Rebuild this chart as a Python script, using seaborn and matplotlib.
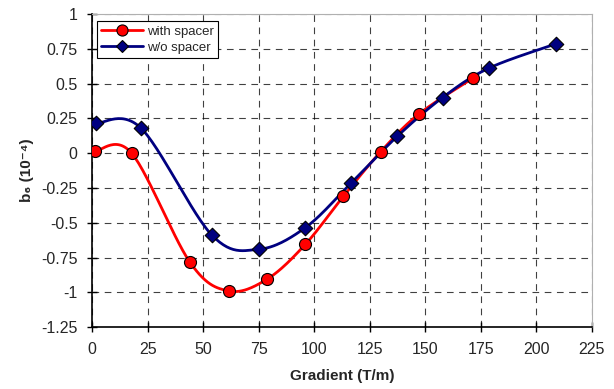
import numpy as np
import pandas as pd
import seaborn as sns
from matplotlib import pyplot as plt
from matplotlib.lines import Line2D

# data
grad_with = [1.4, 17.8, 44.1, 61.5, 78.8, 96.0, 113.1, 129.9, 147.0, 171.5]
b6_with = [0.015, 0.0, -0.785, -0.99, -0.905, -0.655, -0.31, 0.01, 0.28, 0.54]
grad_wo = [1.9, 22.0, 54.0, 75.2, 96.0, 116.6, 137.3, 157.8, 178.5, 208.7]
b6_wo = [0.215, 0.18, -0.59, -0.69, -0.535, -0.215, 0.12, 0.40, 0.61, 0.785]

x_ticks = [0, 25, 50, 75, 100, 125, 150, 175, 200, 225]
y_ticks = [-1.25, -1, -0.75, -0.5, -0.25, 0, 0.25, 0.5, 0.75, 1]
y_labels = ['-1.25', '-1', '-0.75', '-0.5', '-0.25', '0', '0.25', '0.5', '0.75', '1']


def smooth_line(xs, ys, n=30, k=6):
    """Excel-style smoothed line: cubic Bezier through the points."""
    p = np.column_stack([xs, ys]).astype(float)
    p = np.vstack([p[0], p, p[-1]])
    out = []
    t = np.linspace(0, 1, n)[:, None]
    for i in range(1, len(p) - 2):
        p0, p1, p2, p3 = p[i - 1], p[i], p[i + 1], p[i + 2]
        c1 = p1 + (p2 - p0) / k
        c2 = p2 - (p3 - p1) / k
        seg = ((1 - t) ** 3) * p1 + 3 * ((1 - t) ** 2) * t * c1 + 3 * (1 - t) * t ** 2 * c2 + t ** 3 * p2
        out.append(seg)
    out = np.vstack(out)
    return out[:, 0], out[:, 1]


sns.set_style('white')
plt.rcParams['font.family'] = ['Liberation Sans', 'DejaVu Sans']

df_with = pd.DataFrame({'grad': grad_with, 'b6': b6_with})
df_wo = pd.DataFrame({'grad': grad_wo, 'b6': b6_wo})

fig = plt.figure(figsize=(6.14, 3.89), dpi=100)
ax = fig.add_axes([0.150, 0.159, 0.814, 0.805])

red = '#ff0000'
navy = '#000080'

sx, sy = smooth_line(grad_with, b6_with)
ax.plot(sx, sy, color=red, lw=2, zorder=3)
sx, sy = smooth_line(grad_wo, b6_wo)
ax.plot(sx, sy, color=navy, lw=2, zorder=3)

sns.scatterplot(data=df_with, x='grad', y='b6', ax=ax, marker='o', s=75,
                color=red, edgecolor='black', linewidth=0.8, zorder=4)
sns.scatterplot(data=df_wo, x='grad', y='b6', ax=ax, marker='D', s=55,
                color=navy, edgecolor='black', linewidth=0.8, zorder=5)

ax.set_xlim(0, 225)
ax.set_ylim(-1.25, 1)
ax.set_xticks(x_ticks)
ax.set_yticks(y_ticks)
ax.set_yticklabels(y_labels)
ax.tick_params(axis='both', labelsize=11.5, direction='inout', length=7, width=1,
               color='black', bottom=True, left=True, pad=7)

ax.grid(True, color='black', ls=(0, (6, 5)), lw=0.8, alpha=0.75)
ax.set_axisbelow(True)
for side in ['top', 'right']:
    ax.spines[side].set_color('#b0b0b0')
for side in ['left', 'bottom']:
    ax.spines[side].set_color('black')
    ax.spines[side].set_linewidth(1.2)

ax.set_xlabel('Gradient (T/m)', fontsize=11, fontweight='bold', labelpad=9)
ax.set_ylabel('b₆ (10⁻⁴)', fontsize=11, fontweight='bold', labelpad=5)

handles = [
    Line2D([], [], color=red, lw=2, marker='o', markersize=8,
           markerfacecolor=red, markeredgecolor='black', markeredgewidth=0.8),
    Line2D([], [], color=navy, lw=2, marker='D', markersize=6.5,
           markerfacecolor=navy, markeredgecolor='black', markeredgewidth=0.8),
]
leg = ax.legend(handles, ['with spacer', 'w/o spacer'], loc='upper left',
                bbox_to_anchor=(0.005, 0.985), fontsize=9.5, fancybox=False,
                framealpha=1, edgecolor='black', borderpad=0.3,
                labelspacing=0.3, handlelength=3.2, handletextpad=0.3,
                borderaxespad=0.2)
leg.get_frame().set_linewidth(0.8)

fig.savefig('out.png', dpi=100)
